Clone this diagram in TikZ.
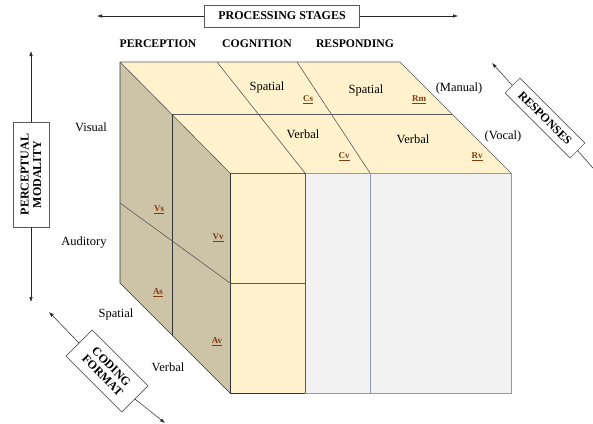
\documentclass[tikz,border=0pt]{standalone}
\usepackage{fontspec}
\setmainfont{Liberation Serif}
\usetikzlibrary{arrows.meta}
\definecolor{cubetan}{HTML}{CDC3A6}
\definecolor{cubecream}{HTML}{FFF2CC}
\definecolor{cubegray}{HTML}{F2F2F2}
\definecolor{edgeblue}{HTML}{8C9AB0}
\definecolor{labbrown}{HTML}{843C0C}
\begin{document}
\begin{tikzpicture}[x=1pt,y=-1pt,
  plain/.style={font=\fontsize{12.5}{14}\selectfont, inner sep=0pt},
  head/.style={font=\bfseries\fontsize{11.7}{13}\selectfont, inner sep=0pt},
  tag/.style={font=\bfseries\fontsize{9}{10}\selectfont, text=labbrown, inner sep=0pt},
  axisbox/.style={draw=black!65, fill=white, font=\bfseries\fontsize{12}{12.5}\selectfont, align=center, inner sep=1pt, line width=0.6pt},
  axisarrow/.style={-{Latex[length=5pt,width=3.5pt]}, line width=0.5pt, draw=black!85},
  cubeline/.style={draw=black!65, line width=0.6pt},
  darkline/.style={draw=black!80, line width=0.7pt},
  blueline/.style={draw=edgeblue, line width=0.8pt}
]
\useasboundingbox (0,0) rectangle (593,423);

% faces
\fill[cubecream] (120,62) -- (400,62) -- (511,173) -- (230,173) -- cycle;
\fill[cubetan] (120,62) -- (230,173) -- (230,393) -- (120,283) -- cycle;
\fill[cubecream] (230,173) rectangle (305,393);
\fill[cubegray] (305,173) rectangle (511,393);

% top face lines
\draw[cubeline] (120,62) -- (400,62) -- (511,173);
\draw[cubeline] (217,62) -- (305,173);
\draw[cubeline] (297,62) -- (370,173);
\draw[cubeline] (172,114) -- (452,114);
\draw[cubeline] (230,173) -- (305,173);

% left face lines
\draw[cubeline] (120,62) -- (230,173);
\draw[darkline] (120,62) -- (120,283) -- (230,393);
\draw[darkline] (172,114) -- (172,335);
\draw[cubeline] (120,203) -- (230,283);

% front face
\draw[blueline] (305,173) rectangle (511,393);
\draw[blueline] (370,173) -- (370,393);
\draw[darkline] (230,173) -- (230,393) -- (305,393);
\draw[cubeline] (230,283) -- (305,283);
\draw[cubeline] (305,173) -- (305,393);

% column headers
\node[head] (hper) at (158,44) {PERCEPTION};
\node[head] (hcog) at (257,44) {COGNITION};
\node[head] (hres) at (355,44) {RESPONDING};

% side labels
\node[plain] (lvis) at (91,127) {Visual};
\node[plain] (laud) at (84,243) {Auditory};
\node[plain] (lspa) at (116,314) {Spatial};
\node[plain] (lver) at (168,367) {Verbal};

% top face labels
\node[plain] (tcs) at (267,87) {Spatial};
\node[tag] (gcs) at (308,100) {\underline{Cs}};
\node[plain] (trs) at (366,90) {Spatial};
\node[tag] (grm) at (419,100) {\underline{Rm}};
\node[plain] (tman) at (459,88) {(Manual)};
\node[plain] (tcv) at (303,134) {Verbal};
\node[tag] (gcv) at (344,157) {\underline{Cv}};
\node[plain] (trv) at (413,139) {Verbal};
\node[tag] (grv) at (477,157) {\underline{Rv}};
\node[plain] (tvoc) at (503,136) {(Vocal)};

% left face labels
\node[tag] (gvs) at (159,210) {\underline{Vs}};
\node[tag] (gvv) at (218,238) {\underline{Vv}};
\node[tag] (gas) at (158,293) {\underline{As}};
\node[tag] (gav) at (217,342) {\underline{Av}};

% axis boxes
\node[axisbox, minimum width=155, minimum height=22] (ps) at (282,16) {PROCESSING STAGES};
\coordinate (psl) at (97,16);
\coordinate (psr) at (458,16);
\draw[axisarrow] (ps.west) -- (psl);
\draw[axisarrow] (ps.east) -- (psr);

\node[axisbox, rotate=90, minimum width=105, minimum height=36] (pm) at (31,174.5) {PERCEPTUAL\\MODALITY};
\coordinate (pmt) at (31,51);
\coordinate (pmb) at (31,302);
\draw[axisarrow] (pm.east) -- (pmt);
\draw[axisarrow] (pm.west) -- (pmb);

\node[axisbox, rotate=-45, minimum width=79, minimum height=37] (cf) at (107,371) {CODING\\FORMAT};
\coordinate (cfa) at (49,312);
\coordinate (cfb) at (165,423);
\draw[axisarrow] (cf.west) -- (cfa);
\draw[axisarrow] (cf.east) -- (cfb);

\node[axisbox, rotate=-45, minimum width=92, minimum height=21] (rs) at (545,118) {RESPONSES};
\coordinate (rsa) at (492,63);
\coordinate (rsb) at (600,176);
\draw[axisarrow] (rs.west) -- (rsa);
\draw[axisarrow] (rs.east) -- (rsb);
\end{tikzpicture}
\end{document}
